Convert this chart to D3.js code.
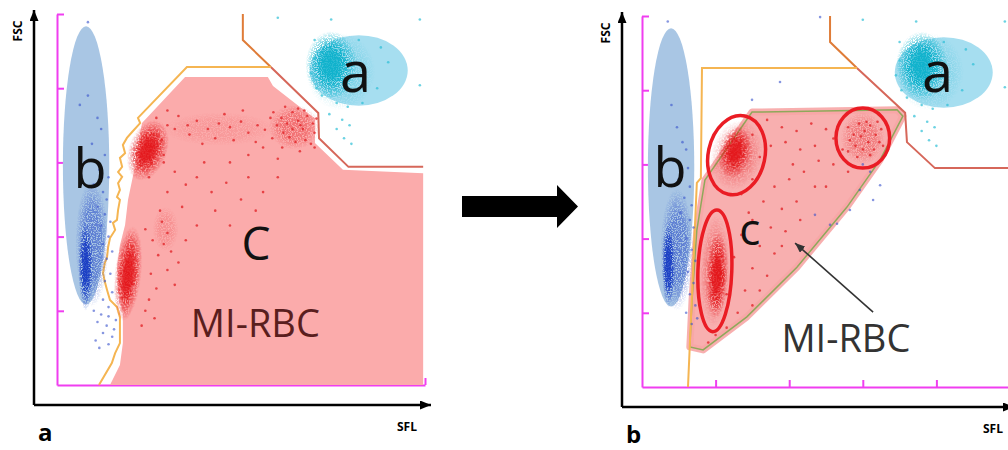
<!DOCTYPE html>
<html>
<head>
<meta charset="utf-8">
<script src="https://cdnjs.cloudflare.com/ajax/libs/d3/7.8.5/d3.min.js"></script>
<style>
  body { margin: 0; background: #fff; }
  svg { display: block; }
  text { font-family: "Open Sans", "DejaVu Sans", sans-serif; }
</style>
</head>
<body>
<div id="vis"></div>
<script>
// channel values (0-1000 on both SFL and FSC)
const ticks = [200, 400, 600, 800, 1000]

// gate outlines
const redGate = [[505, 1000], [505, 930], [581, 857], [710, 733], [712, 665], [792, 588], [995, 588]]
const redGateB = [[511, 1000], [511, 930], [584, 860], [715, 739], [720, 660], [796, 590], [1010, 590]]
const orangeGateA = [[581, 857], [353, 857], [220, 720], [226, 706], [204, 682], [190, 666], [179, 647], [185, 625],
  [171, 612], [177, 588], [166, 574], [177, 561], [166, 544], [171, 526], [163, 507], [171, 499], [166, 472],
  [163, 445], [152, 437], [158, 418], [144, 396], [139, 372], [136, 345], [130, 329], [125, 302], [130, 278],
  [136, 256], [144, 229], [163, 210], [171, 183], [171, 140], [171, 113], [158, 86], [149, 59], [114, 0]]
const orangeGateB = [[584, 860], [163, 860], [160, 563], [149, 550], [125, 0]]

// MI-RBC regions
const regionA = [[348, 830], [573, 830], [587, 806], [688, 728], [701, 720], [701, 652], [777, 580], [995, 571],
  [995, 0], [144, 0], [171, 54], [179, 113], [179, 189], [166, 256], [163, 318], [171, 377], [185, 431],
  [193, 499], [207, 566], [217, 633], [231, 706]]
const regionB = [[299, 741], [693, 747], [709, 730], [647, 612], [557, 485], [421, 323], [285, 189], [166, 100],
  [130, 108], [136, 235], [149, 423], [171, 558]]

// population areas: cx, cy, rx, ry
const popAreaB = [79, 592, 63, 375]
const popAreaA = [820, 848, 133, 95]

// clouds of events: population, cx, cy, rx, ry, tilt, density (1 = solid core)
const cloudsA = [
  ['red', 645, 695, 70, 60, 0, 0.4], ['red', 440, 690, 150, 45, 0, 0.12], ['red', 295, 420, 35, 60, 0, 0.18],
  ['blue', 95, 380, 45, 170, 0, 0.55], ['blue', 78, 320, 20, 120, 0, 1],
  ['red', 247, 633, 52, 85, 20, 1], ['red', 193, 300, 36, 128, 6, 1],
  ['cyan', 770, 845, 95, 105, 0, 0.25], ['cyan', 745, 862, 70, 92, 0, 1]
]
const cloudsB = [
  ['red', 257, 625, 70, 95, 12, 0.4], ['red', 198, 313, 42, 150, 2, 0.4], ['red', 600, 671, 60, 70, 0, 0.35],
  ['blue', 95, 370, 45, 165, 0, 0.55], ['blue', 72, 330, 18, 115, 0, 1],
  ['red', 253, 633, 44, 70, 12, 1], ['red', 204, 300, 30, 115, 2, 1],
  ['cyan', 780, 850, 95, 105, 0, 0.25], ['cyan', 760, 866, 70, 92, 0, 1]
]

// circled sub-populations in b: cx, cy, rx, ry, tilt
const circledB = [[257, 625, 77, 108, 12], [198, 313, 46, 164, 2], [600, 671, 73, 81, 0]]

// sparse events
const redA = [
  [610, 720], [625, 705], [640, 735], [655, 712], [668, 690], [680, 725], [695, 705], [700, 680], [615, 680],
  [632, 668], [648, 655], [662, 700], [675, 660], [690, 650], [598, 700], [588, 735], [705, 718], [640, 690],
  [655, 745], [620, 750], [672, 740], [585, 665], [660, 630], [700, 640], [612, 640],
  [300, 740], [330, 725], [355, 700], [380, 712], [410, 690], [440, 705], [470, 695], [500, 710], [520, 680],
  [545, 700], [565, 688], [580, 720], [480, 660], [430, 665], [395, 650], [360, 675], [320, 690], [455, 730],
  [505, 740], [540, 655], [560, 640], [600, 610], [520, 620],
  [290, 600], [320, 575], [350, 540], [380, 560], [420, 520], [460, 545], [500, 500], [540, 470], [430, 470],
  [380, 430], [470, 430], [520, 560], [300, 520], [340, 480], [560, 520], [600, 560], [400, 600], [470, 600],
  [250, 560], [280, 470],
  [240, 420], [260, 390], [285, 440], [300, 410], [290, 380], [310, 360], [275, 350], [255, 300], [270, 260],
  [250, 230], [240, 200], [265, 180], [300, 310], [320, 270], [230, 160], [350, 390], [330, 330],
  [285, 660], [290, 620], [300, 700], [270, 720]
]
const blueA = [
  [84, 978], [62, 755], [84, 780], [110, 720], [120, 690], [95, 650], [130, 620], [75, 600], [115, 580],
  [140, 560], [100, 540], [125, 520], [135, 500], [110, 480], [130, 460], [145, 440], [120, 430], [140, 400],
  [125, 380], [150, 360], [135, 340], [145, 300], [130, 280], [150, 250], [125, 230], [140, 210],
  [100, 200], [120, 190], [140, 185], [110, 170], [135, 160], [155, 150], [125, 140], [150, 130], [105, 120],
  [140, 110], [160, 175], [115, 100]
]
const cyanA = [
  [600, 990], [745, 985], [986, 985], [986, 808], [700, 880], [690, 840], [705, 800], [720, 780], [760, 760],
  [790, 750], [740, 730], [775, 715], [795, 700], [760, 690], [780, 665], [800, 650], [830, 760], [870, 800],
  [900, 870], [880, 910], [820, 930], [700, 930], [715, 860], [730, 820]
]
const redB = [
  [560, 700], [575, 680], [590, 710], [605, 690], [620, 705], [635, 680], [650, 695], [580, 650], [600, 640],
  [615, 660], [630, 640], [645, 660], [565, 665], [595, 675], [620, 625], [560, 635], [610, 715], [640, 715],
  [585, 620], [655, 650],
  [340, 720], [380, 700], [420, 690], [460, 710], [500, 695], [520, 670], [470, 650], [430, 640], [390, 660],
  [350, 650], [480, 610], [520, 600], [440, 580], [400, 560], [360, 540], [330, 500], [380, 480], [420, 500],
  [470, 540], [500, 540], [350, 430], [390, 420], [430, 450], [320, 380], [360, 360], [300, 320], [340, 300],
  [280, 260], [300, 220], [260, 200], [320, 260], [380, 380], [300, 450], [270, 410], [250, 350], [230, 250],
  [220, 180], [230, 160], [200, 140], [180, 120], [545, 640], [560, 580], [410, 600], [300, 560], [320, 620],
  [300, 680], [330, 600], [270, 520], [290, 470]
]
const blueB = [
  [70, 985], [80, 760], [95, 700], [110, 660], [120, 640], [85, 610], [125, 590], [100, 560], [130, 540],
  [115, 510], [135, 490], [105, 470], [130, 450], [140, 430], [120, 400], [135, 370], [145, 340], [125, 310],
  [140, 280], [130, 250], [145, 220], [120, 200], [150, 185], [135, 170],
  [375, 822], [299, 774], [484, 997], [470, 464], [592, 531], [647, 544], [511, 437], [565, 477], [628, 504],
  [600, 600], [530, 440], [620, 580]
]

const popColors = { red: '#e3171b', blue: '#1b3fc4', cyan: '#10b2cc' }

const svg = d3.select('#vis').append('svg')
  .attr('width', 1008)
  .attr('height', 450)
const defs = svg.append('defs')

Object.keys(popColors).forEach(k => {
  let g = defs.append('radialGradient').attr('id', 'grad-' + k)
  g.append('stop').attr('offset', '0%').attr('stop-color', popColors[k]).attr('stop-opacity', 1)
  g.append('stop').attr('offset', '55%').attr('stop-color', popColors[k]).attr('stop-opacity', 0.9)
  g.append('stop').attr('offset', '100%').attr('stop-color', popColors[k]).attr('stop-opacity', 0)
})

// grainy texture so the clouds look like dots, not smooth blobs
const speckle = defs.append('filter').attr('id', 'speckle')
  .attr('x', '-20%').attr('y', '-20%').attr('width', '140%').attr('height', '140%')
speckle.append('feTurbulence').attr('type', 'fractalNoise').attr('baseFrequency', 0.8)
  .attr('numOctaves', 2).attr('seed', 7).attr('result', 'noise')
speckle.append('feColorMatrix').attr('in', 'noise').attr('type', 'matrix')
  .attr('values', '0 0 0 0 0  0 0 0 0 0  0 0 0 0 0  0 0 0 6 -2.2').attr('result', 'mask')
speckle.append('feComposite').attr('in', 'SourceGraphic').attr('in2', 'mask').attr('operator', 'in')

function arrowMarker(id, color, w, h) {
  defs.append('marker').attr('id', id)
    .attr('viewBox', `0 0 ${h} ${w}`).attr('refX', h).attr('refY', w / 2)
    .attr('markerWidth', h).attr('markerHeight', w).attr('markerUnits', 'userSpaceOnUse')
    .attr('orient', 'auto')
    .append('path').attr('d', `M0,0L${h},${w / 2}L0,${w}Z`).attr('fill', color)
}
arrowMarker('blackArrow', '#000', 9, 11)
arrowMarker('greyArrow', '#333', 8, 10)

// one panel = scales + frame
function makePanel(p) {
  let g = svg.append('g')
  let x = d3.scaleLinear().domain([0, 1000]).range([p.x0, p.x0 + 368])
  let y = d3.scaleLinear().domain([0, 1000]).range([p.y0, p.y0 - 371])

  // outer black axes with arrows
  g.append('line')
    .attr('x1', p.ax).attr('y1', p.ay).attr('x2', p.ax).attr('y2', p.yTip)
    .attr('stroke', '#000').attr('stroke-width', 2.5).attr('marker-end', 'url(#blackArrow)')
  g.append('line')
    .attr('x1', p.ax).attr('y1', p.ay).attr('x2', p.xTip).attr('y2', p.ay)
    .attr('stroke', '#000').attr('stroke-width', 2.5).attr('marker-end', 'url(#blackArrow)')

  // magenta instrument axes
  let xAxis = d3.axisBottom(x).tickValues(ticks).tickSizeInner(-7).tickSizeOuter(0).tickFormat('')
  let yAxis = d3.axisLeft(y).tickValues(ticks).tickSizeInner(-7).tickSizeOuter(0).tickFormat('')
  g.append('g').attr('transform', `translate(0,${p.y0})`).call(xAxis)
  g.append('g').attr('transform', `translate(${p.x0},0)`).call(yAxis)
  g.selectAll('.domain, .tick line').attr('stroke', '#f03ef0').attr('stroke-width', 2)

  g.append('text').text('FSC')
    .attr('transform', `translate(${p.ax - 16},${p.yTip + 21}) rotate(-90)`)
    .attr('text-anchor', 'middle').attr('dy', '0.35em')
    .style('font-size', '12px').style('font-weight', 'bold')
  g.append('text').text('SFL')
    .attr('x', p.sflX).attr('y', p.ay + 26)
    .style('font-size', '12px').style('font-weight', 'bold')
  g.append('text').text(p.id)
    .attr('x', p.ax + 4).attr('y', p.ay + 36)
    .style('font-size', '24px').style('font-weight', 'bold')

  return { g, x, y }
}

function drawClouds(layer, x, y, clouds) {
  clouds.forEach(c => {
    let cx = x(c[1]), cy = y(c[2])
    let rx = x(c[1] + c[3]) - cx, ry = cy - y(c[2] + c[4])
    let tf = `rotate(${c[5]},${cx},${cy})`
    layer.append('ellipse')
      .attr('cx', cx).attr('cy', cy).attr('rx', rx).attr('ry', ry).attr('transform', tf)
      .attr('fill', `url(#grad-${c[0]})`).attr('filter', 'url(#speckle)')
      .attr('opacity', c[6] < 1 ? c[6] : 1)
    if (c[6] >= 1) {
      layer.append('ellipse')
        .attr('cx', cx).attr('cy', cy).attr('rx', rx * 0.55).attr('ry', ry * 0.6).attr('transform', tf)
        .attr('fill', `url(#grad-${c[0]})`).attr('opacity', 0.85)
    }
  })
}

function drawEvents(layer, x, y, data, color, op) {
  layer.append('g').selectAll('circle')
    .data(data)
    .enter()
    .append('circle')
    .attr('cx', d => x(d[0]))
    .attr('cy', d => y(d[1]))
    .attr('r', 1.3)
    .style('fill', color)
    .style('fill-opacity', op)
}

function drawPopAreas(layer, x, y) {
  let areas = [[popAreaB, '#a9c6e4'], [popAreaA, '#a6def0']]
  areas.forEach(a => {
    let e = a[0]
    layer.append('ellipse')
      .attr('cx', x(e[0])).attr('cy', y(e[1]))
      .attr('rx', x(e[0] + e[2]) - x(e[0])).attr('ry', y(e[1]) - y(e[1] + e[3]))
      .attr('fill', a[1])
  })
}

function bigLetter(layer, txt, px, py, size, color) {
  layer.append('text').text(txt)
    .attr('x', px).attr('y', py).attr('text-anchor', 'middle')
    .style('font-size', size + 'px').style('fill', color || '#111')
}

// ---------- panel a ----------
{
  let { g, x, y } = makePanel({ id: 'a', x0: 57, y0: 385, ax: 34, ay: 405, yTip: 10, xTip: 431, sflX: 397 })
  let poly = d3.line().x(d => x(d[0])).y(d => y(d[1]))

  g.append('path').attr('d', poly(regionA) + 'Z').attr('fill', '#fbabab')
  drawPopAreas(g, x, y)

  g.append('path').attr('d', poly(redGate.slice(2))).attr('fill', 'none')
    .attr('stroke', '#d6675a').attr('stroke-width', 2)
  g.append('path').attr('d', poly(redGate.slice(0, 3))).attr('fill', 'none')
    .attr('stroke', '#df7c38').attr('stroke-width', 2)
  g.append('path').attr('d', poly(orangeGateA)).attr('fill', 'none')
    .attr('stroke', '#f5b552').attr('stroke-width', 2)

  drawClouds(g, x, y, cloudsA)
  drawEvents(g, x, y, redA, '#e01e22', 0.75)
  drawEvents(g, x, y, blueA, '#3550cc', 0.6)
  drawEvents(g, x, y, cyanA, '#2cbfd6', 0.7)

  bigLetter(g, 'b', x(90), y(531), 54)
  bigLetter(g, 'a', x(811), y(790), 56)
  bigLetter(g, 'C', x(541), y(337), 46)
  bigLetter(g, 'MI-RBC', x(539), y(129), 38, '#5a1e1e')
}

// ---------- panel b ----------
{
  let { g, x, y } = makePanel({ id: 'b', x0: 642, y0: 387, ax: 622, ay: 407, yTip: 12, xTip: 1014, sflX: 983 })
  let poly = d3.line().x(d => x(d[0])).y(d => y(d[1]))

  drawPopAreas(g, x, y)

  g.append('path').attr('d', poly(regionB) + 'Z')
    .attr('fill', '#f7a6a6').attr('stroke', '#f7a6a6').attr('stroke-width', 7)
    .attr('stroke-linejoin', 'round').attr('fill-opacity', 0.9).attr('stroke-opacity', 0.9)
  g.append('path').attr('d', poly(regionB) + 'Z').attr('fill', 'none')
    .attr('stroke', '#8fa85a').attr('stroke-width', 1.5)

  g.append('path').attr('d', poly(redGateB.slice(2))).attr('fill', 'none')
    .attr('stroke', '#d6675a').attr('stroke-width', 2)
  g.append('path').attr('d', poly(redGateB.slice(0, 3))).attr('fill', 'none')
    .attr('stroke', '#df7c38').attr('stroke-width', 2)
  g.append('path').attr('d', poly(orangeGateB)).attr('fill', 'none')
    .attr('stroke', '#f5b552').attr('stroke-width', 2)

  drawClouds(g, x, y, cloudsB)
  drawEvents(g, x, y, redB, '#e01e22', 0.75)
  drawEvents(g, x, y, blueB, '#3550cc', 0.6)
  drawEvents(g, x, y, cyanA, '#2cbfd6', 0.7)

  circledB.forEach(c => {
    let cx = x(c[0]), cy = y(c[1])
    g.append('ellipse')
      .attr('cx', cx).attr('cy', cy)
      .attr('rx', x(c[0] + c[2]) - cx).attr('ry', cy - y(c[1] + c[3]))
      .attr('transform', `rotate(${c[4]},${cx},${cy})`)
      .attr('fill', 'none').attr('stroke', '#ea1c24').attr('stroke-width', 3.5)
  })

  bigLetter(g, 'b', x(76), y(539), 54)
  bigLetter(g, 'a', x(803), y(795), 56)
  bigLetter(g, 'c', x(293), y(383), 44)
  bigLetter(g, 'MI-RBC', x(554), y(94), 38, '#333')

  g.append('line')
    .attr('x1', x(628)).attr('y1', y(202)).attr('x2', x(416)).attr('y2', y(388))
    .attr('stroke', '#333').attr('stroke-width', 1.6).attr('marker-end', 'url(#greyArrow)')
}

// big arrow between the panels
svg.append('path')
  .attr('d', 'M462,196H557V185L578,206.5L557,228V217H462Z')
  .attr('fill', '#000')
</script>
</body>
</html>
